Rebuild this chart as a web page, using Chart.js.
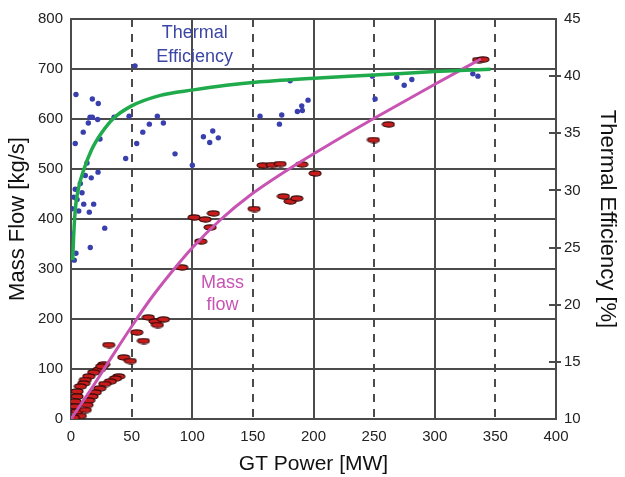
<!DOCTYPE html>
<html>
<head>
<meta charset="utf-8">
<script src="https://cdn.jsdelivr.net/npm/chart.js@4.4.0/dist/chart.umd.min.js"></script>
<style>
  html,body{margin:0;padding:0;background:#fff}
</style>
</head>
<body>
<canvas id="chart" width="625" height="477"></canvas>
<script>
// GT power vs mass flow / thermal efficiency

// measured thermal efficiency (blue dots), right axis
const effPower = [4.1,17.6,22.5,52.8,15.7,17.6,14.3,22.0,10.1,3.5,23.9,35.5,47.9,54.2,59.2,64.6,71.2,76.2,45.1,85.8,
  100.1,109.2,116.9,121.5,114.4,180.7,155.9,173.8,171.9,186.7,190.3,190.8,195.5,
  13.2,22.3,16.7,11.8,7.7,9.1,3.5,2.2,5.0,10.5,18.7,15.1,6.4,0.8,27.8,15.9,4.1,2.7,0.8,
  248.6,268.7,274.8,281.1,250.8,331.4,335.6];
const effValue = [38.4,38.0,37.6,40.9,36.4,36.4,35.9,36.2,35.1,34.1,34.5,36.4,36.5,34.1,35.1,35.8,36.5,35.9,32.8,33.2,
  32.2,34.7,35.2,34.6,34.2,39.6,36.5,36.6,35.8,36.9,37.4,37.0,37.9,
  32.4,31.6,31.1,31.3,30.6,29.8,30.1,29.4,29.2,28.8,28.8,28.1,28.2,28.4,26.7,25.0,24.5,23.9,26.2,
  40.0,39.9,39.2,39.7,38.0,40.2,40.0];

// measured mass flow (red markers), left axis
const massPower = [31.1,43.5,48.9,27.0,23.3,18.7,14.6,11.8,10.5,7.7,5.0,5.0,3.5,3.5,5.0,7.7,2.0,
  39.4,36.6,32.4,27.8,23.7,20.0,17.3,14.6,13.2,11.8,25.3,
  63.8,69.3,76.2,71.2,54.2,59.7,101.5,110.6,117.4,114.7,107.0,151.0,91.3,
  158.4,165.8,172.4,190.3,201.3,175.2,180.7,186.2,261.8,249.4,336.1,339.7];
const massValue = [148,123,116,109,99,93,85,78,71,65,55,45,35,25,15,6,3,
  85,81,75,70,61,53,45,37,28,18,105,
  203,195,199,188,173,156,403,399,411,383,355,420,303,
  507,508,510,509,491,445,435,441,589,558,718,719];

// fitted curves
const effFitPower = [1.4,2.2,3.1,4.1,6.4,10.5,16.7,25,35,50,73,101,128,156,197,250,300,346];
const effFitValue = [23.9,26.0,27.7,28.9,30.3,31.8,33.5,35.0,36.3,37.4,38.3,38.8,39.2,39.5,39.8,40.1,40.4,40.6];
const massFitPower = [0,18,32,50,65,82,101,123,148,183,215,249,299,338];
const massFitValue = [0,65,118,185,238,291,345,398,448,505,552,600,668,720];

// axes
const xSolidGrid = [100,200,300];
const xDashGrid = [50,150,250,350];
const yGrid = [100,200,300,400,500,600,700];
const effTicks = [15,20,25,30,35,40];

const FONT = "'Liberation Sans', Arial, sans-serif";
const GRID = '#4b4b4b';
const BLUE = '#3a3fae';
const GREEN = '#1faa4b';
const PINK = '#c853b2';

const pts = (xs, ys) => xs.map((v,i)=>({x:v, y:ys[i]}));

function ellipseMarker(){
  const c = document.createElement('canvas');
  c.width = 14; c.height = 7;
  const g = c.getContext('2d');
  g.beginPath();
  g.ellipse(7,3.5,6,2.6,0,0,Math.PI*2);
  g.fillStyle = '#c81c1c'; g.fill();
  g.lineWidth = 1.1; g.strokeStyle = '#3a0808'; g.stroke();
  return c;
}

const gridPlugin = {
  id:'gridbox',
  beforeDatasetsDraw(chart){
    const {ctx, chartArea:a, scales} = chart;
    const x = scales.x, y = scales.y, y2 = scales.y2;
    const line = (x1,y1,x2,y2_)=>{ ctx.beginPath(); ctx.moveTo(x1,y1); ctx.lineTo(x2,y2_); ctx.stroke(); };
    ctx.save();
    ctx.strokeStyle = GRID; ctx.lineWidth = 2;
    yGrid.forEach(v=>{ const p = Math.round(y.getPixelForValue(v)); line(a.left,p,a.right,p); });
    xSolidGrid.forEach(v=>{ const p = Math.round(x.getPixelForValue(v)); line(p,a.top,p,a.bottom); });
    ctx.setLineDash([8,7]);
    xDashGrid.forEach(v=>{ const p = Math.round(x.getPixelForValue(v)); line(p,a.top,p,a.bottom); });
    ctx.setLineDash([]);
    ctx.strokeRect(a.left, a.top, a.right-a.left, a.bottom-a.top);
    effTicks.forEach(v=>{ const p = Math.round(y2.getPixelForValue(v)); line(a.right-7,p,a.right+5,p); });
    ctx.restore();
  },
  afterDatasetsDraw(chart){
    const {ctx, scales:{x,y}} = chart;
    ctx.save();
    ctx.font = '18px ' + FONT;
    ctx.textAlign = 'center'; ctx.textBaseline = 'middle';
    ctx.fillStyle = '#3d47a3';
    ctx.fillText('Thermal', x.getPixelForValue(102), y.getPixelForValue(772));
    ctx.fillText('Efficiency', x.getPixelForValue(102), y.getPixelForValue(724));
    ctx.fillStyle = PINK;
    ctx.fillText('Mass', x.getPixelForValue(125), y.getPixelForValue(272));
    ctx.fillText('flow', x.getPixelForValue(125), y.getPixelForValue(228));
    ctx.restore();
  }
};

new Chart(document.getElementById('chart'), {
  type:'scatter',
  data:{
    datasets:[
      {data:pts(effFitPower,effFitValue), yAxisID:'y2', showLine:true, borderColor:GREEN, borderWidth:3.5,
        pointRadius:0, cubicInterpolationMode:'monotone', order:0},
      {data:pts(massFitPower,massFitValue), yAxisID:'y', showLine:true, borderColor:PINK, borderWidth:3,
        pointRadius:0, cubicInterpolationMode:'monotone', order:0},
      {data:pts(effPower,effValue), yAxisID:'y2', pointRadius:2.7, pointBackgroundColor:BLUE,
        pointBorderWidth:0, order:1},
      {data:pts(massPower,massValue), yAxisID:'y', pointStyle:ellipseMarker(), order:2}
    ]
  },
  options:{
    responsive:false, animation:false,
    layout:{padding:{top:19,left:0,right:0,bottom:0}},
    plugins:{legend:{display:false}, tooltip:{enabled:false}},
    scales:{
      x:{type:'linear', min:0, max:400,
        ticks:{stepSize:50, padding:9, color:'#222', font:{family:FONT,size:15}},
        grid:{display:false, drawTicks:false}, border:{display:false},
        title:{display:true, text:'GT Power [MW]', color:'#111', font:{family:FONT,size:21}, padding:{top:0,bottom:0}},
        afterFit(s){ s.height = 58; }
      },
      y:{type:'linear', position:'left', min:0, max:800,
        ticks:{stepSize:100, padding:8, color:'#222', font:{family:FONT,size:15}},
        grid:{display:false, drawTicks:false}, border:{display:false},
        title:{display:true, text:'Mass Flow [kg/s]', color:'#111', font:{family:FONT,size:22}, padding:{top:5,bottom:0}},
        afterFit(s){ s.width = 71; }
      },
      y2:{type:'linear', position:'right', min:10, max:45,
        ticks:{stepSize:5, padding:8, color:'#222', font:{family:FONT,size:15}},
        grid:{display:false, drawTicks:false}, border:{display:false},
        title:{display:true, text:'Thermal Efficiency [%]', color:'#111', font:{family:FONT,size:22}, padding:{top:5,bottom:0}},
        afterFit(s){ s.width = 69; }
      }
    }
  },
  plugins:[gridPlugin]
});
</script>
</body>
</html>
